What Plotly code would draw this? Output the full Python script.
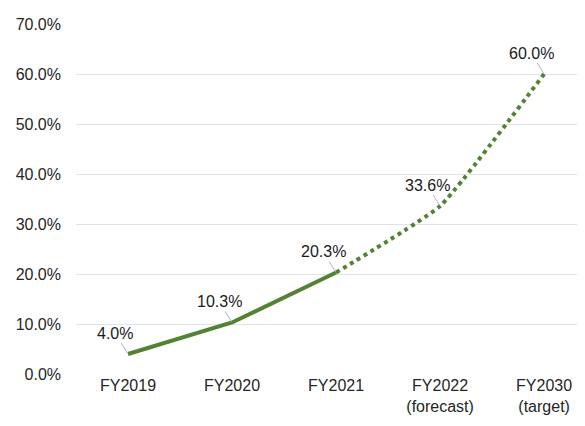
import plotly.graph_objects as go

categories = ["FY2019", "FY2020", "FY2021", "FY2022<br>(forecast)", "FY2030<br>(target)"]
values = [4.0, 10.3, 20.3, 33.6, 60.0]
labels = ["4.0%", "10.3%", "20.3%", "33.6%", "60.0%"]
y_ticks = [0, 10, 20, 30, 40, 50, 60, 70]
y_tick_text = ["0.0%", "10.0%", "20.0%", "30.0%", "40.0%", "50.0%", "60.0%", "70.0%"]

GREEN = "#548235"
FONT = "Liberation Sans, Arial, sans-serif"

fig = go.Figure()
fig.add_trace(go.Scatter(
    x=categories[:3], y=values[:3], mode="lines",
    line=dict(color=GREEN, width=4), hoverinfo="skip"))
fig.add_trace(go.Scatter(
    x=categories[2:], y=values[2:], mode="lines",
    line=dict(color=GREEN, width=4, dash="4px,4px", shape="spline", smoothing=0.4),
    hoverinfo="skip"))

for c, v, t in zip(categories, values, labels):
    fig.add_annotation(
        x=c, y=v, text=t, showarrow=True, arrowhead=0, arrowwidth=1,
        arrowcolor="#a9b6c9", ax=-13, ay=-21, standoff=1,
        font=dict(family=FONT, size=16, color="#1a1a1a"))

fig.update_layout(
    width=585, height=426,
    margin=dict(l=68, r=0, t=16, b=60, autoexpand=False),
    paper_bgcolor="white", plot_bgcolor="white",
    showlegend=False,
    font=dict(family=FONT, size=16, color="#262626"),
    xaxis=dict(type="category", range=[-0.5, 4.47], showgrid=False,
               showline=False, zeroline=False, ticks="", automargin=False,
               tickfont=dict(family=FONT, size=16, color="#262626")),
    yaxis=dict(range=[0, 70], tickmode="array", tickvals=y_ticks,
               ticktext=y_tick_text, showgrid=True, gridcolor="#dfe4ec",
               gridwidth=1.2, zeroline=False, showline=False,
               ticklabelstandoff=14, automargin=False,
               tickfont=dict(family=FONT, size=16, color="#262626")),
)

fig.write_html("out.html")
